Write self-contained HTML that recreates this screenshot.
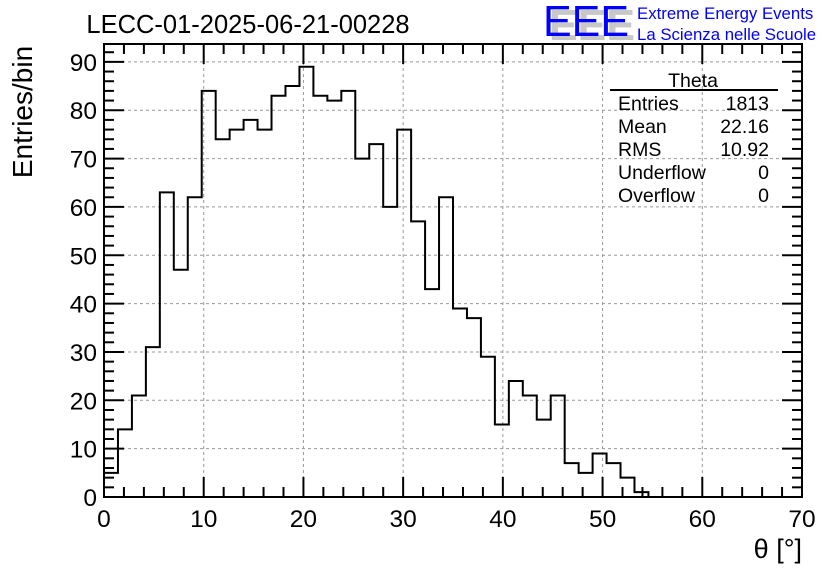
<!DOCTYPE html>
<html><head><meta charset="utf-8"><style>
body{margin:0;background:#fff}
svg{display:block;font-family:"Liberation Sans",sans-serif}
</style></head><body>
<svg id="chart" width="836" height="572" viewBox="0 0 836 572">
<text x="248" y="33" font-size="25.5" text-anchor="middle">LECC-01-2025-06-21-00228</text>
<g>
<text x="549" y="40" font-size="44" fill="#c8c8c8" font-weight="bold" textLength="86" lengthAdjust="spacingAndGlyphs">EEE</text>
<text x="543" y="36" font-size="44" fill="#0000ff" textLength="86" lengthAdjust="spacingAndGlyphs">EEE</text>
<text x="637" y="19" font-size="16.8" fill="#0000ff">Extreme Energy Events</text>
<text x="637" y="40" font-size="16.8" fill="#0000ff">La Scienza nelle Scuole</text>
</g>
<g id="grid"></g>
<g id="axes"></g>
<path id="hist" fill="none" stroke="#000" stroke-width="2"/>
<rect x="104" y="44" width="698" height="453" fill="none" stroke="#000" stroke-width="2"/>
<text transform="translate(32,112) rotate(-90)" font-size="28" text-anchor="middle">Entries/bin</text>
<text x="802" y="558" font-size="27" text-anchor="end">θ [°]</text>
<g font-size="19.5">
<text x="693" y="87" text-anchor="middle">Theta</text>
<line x1="610" y1="90" x2="778" y2="90" stroke="#000" stroke-width="2"/>
<text x="618" y="110">Entries</text><text x="769" y="110" text-anchor="end">1813</text>
<text x="618" y="133">Mean</text><text x="769" y="133" text-anchor="end">22.16</text>
<text x="618" y="156">RMS</text><text x="769" y="156" text-anchor="end">10.92</text>
<text x="618" y="179">Underflow</text><text x="769" y="179" text-anchor="end">0</text>
<text x="618" y="202">Overflow</text><text x="769" y="202" text-anchor="end">0</text>
</g>
</svg>
<script>
const counts = [5,14,21,31,63,47,62,84,74,76,78,76,83,85,89,83,82,84,70,73,60,76,57,43,62,39,37,29,15,24,21,16,21,7,5,9,7,4,1,0,0,0,0,0,0,0,0,0,0,0];
const binWidth = 1.4;
const xTicks = [0,10,20,30,40,50,60,70];
const yTicks = [0,10,20,30,40,50,60,70,80,90];
const xMin=0,xMax=70,yMax=93.7;
const L=104,R=802,T=44,B=497;
const sx=v=>L+(v-xMin)/(xMax-xMin)*(R-L);
const sy=v=>B-v/yMax*(B-T);
const NS="http://www.w3.org/2000/svg";
function mk(tag,attrs,parent){const e=document.createElementNS(NS,tag);for(const k in attrs)e.setAttribute(k,attrs[k]);parent.appendChild(e);return e;}
const grid=document.getElementById('grid'),axes=document.getElementById('axes');
xTicks.forEach(t=>{
  if(t>xMin&&t<xMax){const g=mk('line',{x1:sx(t),x2:sx(t),y1:T,y2:B,stroke:'#999','stroke-dasharray':'3,3'},grid);
  
  }
  const lb=mk('text',{x:sx(t),y:527,'font-size':24.5,'text-anchor':'middle'},axes);lb.textContent=t;
  
  
});
yTicks.forEach(t=>{
  if(t>0){const g=mk('line',{x1:L,x2:R,y1:sy(t),y2:sy(t),stroke:'#999','stroke-dasharray':'3,3'},grid);
  
  }
  const lb=mk('text',{x:97,y:sy(t)+9,'font-size':24.5,'text-anchor':'end'},axes);lb.textContent=t;
  
  
});
for(let v=0;v<=xMax;v+=2){const big=v%10===0,len=big?20:10;
  mk('line',{x1:sx(v),x2:sx(v),y1:B,y2:B-len,stroke:'#000','stroke-width':2},axes);
  mk('line',{x1:sx(v),x2:sx(v),y1:T,y2:T+len,stroke:'#000','stroke-width':2},axes);}
for(let v=0;v<=yMax;v+=2){const big=v%10===0,len=big?20:10;
  mk('line',{x1:L,x2:L+len,y1:sy(v),y2:sy(v),stroke:'#000','stroke-width':2},axes);
  mk('line',{x1:R,x2:R-len,y1:sy(v),y2:sy(v),stroke:'#000','stroke-width':2},axes);}
let d='M'+sx(0)+','+sy(0);
counts.forEach((c,i)=>{const x0=sx(i*binWidth),x1=sx((i+1)*binWidth);d+=' L'+x0+','+sy(c)+' L'+x1+','+sy(c);});
d+=' L'+sx(counts.length*binWidth)+','+sy(0);
document.getElementById('hist').setAttribute('d',d);
</script>
</body></html>
